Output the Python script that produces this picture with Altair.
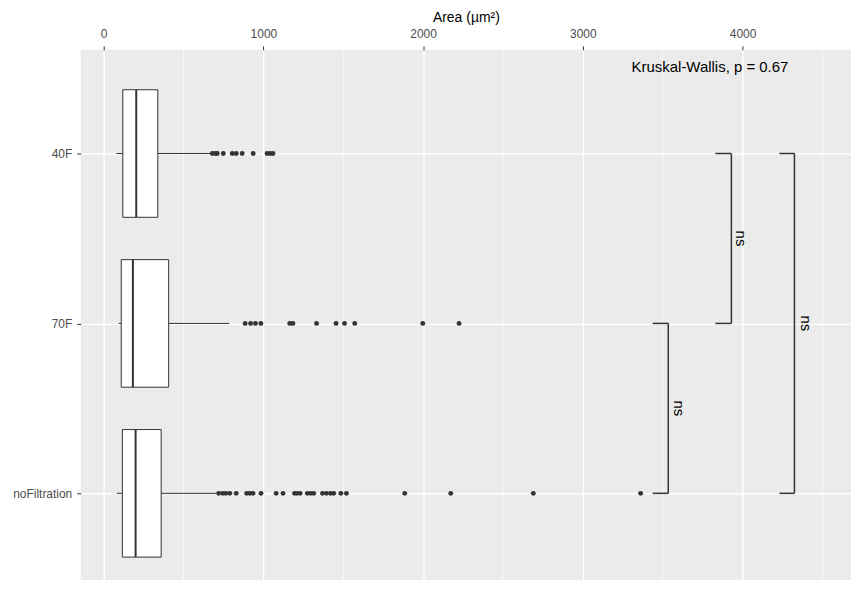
import altair as alt
import pandas as pd

# ---------------- data ----------------
categories = ["40F", "70F", "noFiltration"]
whisker_low = [79, 94, 83]
q1 = [120, 110, 117]
median = [204, 183, 200]
q3 = [339, 407, 360]
whisker_high = [672, 786, 703]

outliers_40F = [680, 699, 711, 749, 805, 830, 867, 936, 1023, 1042, 1060]
outliers_70F = [886, 920, 950, 984, 1165, 1185, 1333, 1455, 1508, 1572, 1998, 2225]
outliers_noFiltration = [720, 745, 765, 790, 830, 895, 915, 935, 985, 1080, 1123,
                         1195, 1210, 1230, 1275, 1295, 1315, 1370, 1395, 1420, 1440,
                         1485, 1520, 1885, 2173, 2690, 3362]

bracket_from = ["40F", "70F", "40F"]
bracket_to = ["70F", "noFiltration", "noFiltration"]
bracket_x = [3930, 3535, 4325]
bracket_tip = [3830, 3437, 4231]
bracket_label = ["ns", "ns", "ns"]
bracket_label_x = [3992, 3603, 4398]

test_label = "Kruskal-Wallis, p = 0.67"
test_label_x = 3796
test_label_y = -0.48

x_ticks = [0, 1000, 2000, 3000, 4000]
x_minor = [500, 1500, 2500, 3500, 4500]
x_domain = [-143.5, 4679]
y_domain = [-0.61, 2.51]

# ---------------- tables ----------------
idx = {c: i for i, c in enumerate(categories)}
box_df = pd.DataFrame({
    "cat": categories,
    "idx": [idx[c] for c in categories],
    "wl": whisker_low, "q1": q1, "med": median, "q3": q3, "wh": whisker_high,
})
out_rows = []
for c, vals in zip(categories, [outliers_40F, outliers_70F, outliers_noFiltration]):
    for v in vals:
        out_rows.append({"cat": c, "idx": idx[c], "value": v})
out_df = pd.DataFrame(out_rows)

br_df = pd.DataFrame({
    "y1": [idx[c] for c in bracket_from],
    "y2": [idx[c] for c in bracket_to],
    "bx": bracket_x, "tip": bracket_tip,
    "label": bracket_label, "lx": bracket_label_x,
})
br_df["ymid"] = (br_df["y1"] + br_df["y2"]) / 2
tip_rows = []
for _, r in br_df.iterrows():
    tip_rows.append({"y": r["y1"], "tip": r["tip"], "bx": r["bx"]})
    tip_rows.append({"y": r["y2"], "tip": r["tip"], "bx": r["bx"]})
tip_df = pd.DataFrame(tip_rows)
minor_df = pd.DataFrame({"x": x_minor})
kw_df = pd.DataFrame({"x": [test_label_x], "y": [test_label_y], "t": [test_label]})

FONT = "Liberation Sans"
DARK = "#333333"

label_expr = "[" + ",".join("'%s'" % c for c in categories) + "][datum.value]"

x_scale = alt.Scale(domain=x_domain, nice=False, zero=False, padding=0)
y_scale = alt.Scale(domain=y_domain, reverse=True, nice=False, zero=False, padding=0)

x_axis = alt.Axis(orient="top", values=x_ticks, title="Area (µm²)", titleFontSize=14,
                  titleFontWeight="normal", titleColor="black", titlePadding=3,
                  labelFontSize=12, labelColor="#4D4D4D", labelPadding=5, labelFlush=False,
                  tickSize=4, tickColor=DARK, domain=False, grid=True,
                  gridColor="white", gridWidth=1.4, format="d")
y_axis = alt.Axis(values=[0, 1, 2], labelExpr=label_expr, title=None,
                  labelFontSize=12, labelColor="#4D4D4D", labelPadding=5,
                  tickSize=4, tickColor=DARK, domain=False, grid=True,
                  gridColor="white", gridWidth=1.4, minExtent=73, maxExtent=73)

minor = alt.Chart(minor_df).mark_rule(color="white", strokeWidth=0.7).encode(
    x=alt.X("x:Q", scale=x_scale, axis=x_axis))

base = alt.Chart(box_df)
wl_rule = base.mark_rule(color=DARK, strokeWidth=1).encode(
    x=alt.X("wl:Q", scale=x_scale, axis=x_axis), x2="q1:Q",
    y=alt.Y("idx:Q", scale=y_scale, axis=y_axis))
wh_rule = base.mark_rule(color=DARK, strokeWidth=1).encode(
    x=alt.X("q3:Q", scale=x_scale), x2="wh:Q", y=alt.Y("idx:Q", scale=y_scale))
box = base.mark_bar(orient="horizontal", size=128, fill="white", stroke=DARK,
                    strokeWidth=1).encode(
    x=alt.X("q1:Q", scale=x_scale), x2="q3:Q", y=alt.Y("idx:Q", scale=y_scale))
med = base.mark_tick(orient="vertical", size=128, thickness=2, color=DARK, opacity=1).encode(
    x=alt.X("med:Q", scale=x_scale), y=alt.Y("idx:Q", scale=y_scale))

pts = alt.Chart(out_df).mark_circle(size=24, color=DARK, opacity=1).encode(
    x=alt.X("value:Q", scale=x_scale), y=alt.Y("idx:Q", scale=y_scale))

br_v = alt.Chart(br_df).mark_rule(color=DARK, strokeWidth=1.5).encode(
    x=alt.X("bx:Q", scale=x_scale), y=alt.Y("y1:Q", scale=y_scale), y2="y2:Q")
br_t = alt.Chart(tip_df).mark_rule(color=DARK, strokeWidth=1.5).encode(
    x=alt.X("tip:Q", scale=x_scale), x2="bx:Q", y=alt.Y("y:Q", scale=y_scale))
br_lab = alt.Chart(br_df).mark_text(angle=90, fontSize=15, color="black", font=FONT,
                                    align="center", baseline="middle").encode(
    x=alt.X("lx:Q", scale=x_scale), y=alt.Y("ymid:Q", scale=y_scale), text="label:N")

kw = alt.Chart(kw_df).mark_text(fontSize=15, color="black", font=FONT, align="center",
                                baseline="alphabetic").encode(
    x=alt.X("x:Q", scale=x_scale), y=alt.Y("y:Q", scale=y_scale), text="t:N")

chart = alt.layer(minor, wl_rule, wh_rule, box, med, pts, br_v, br_t, br_lab, kw).properties(
    width=773, height=532,
    padding={"left": 0, "top": 2, "right": 0, "bottom": 0},
    background="white",
).configure(font=FONT).configure_view(fill="#EBEBEB", stroke=None)

chart.save("out.html", embed_options={"renderer": "svg", "actions": False})
